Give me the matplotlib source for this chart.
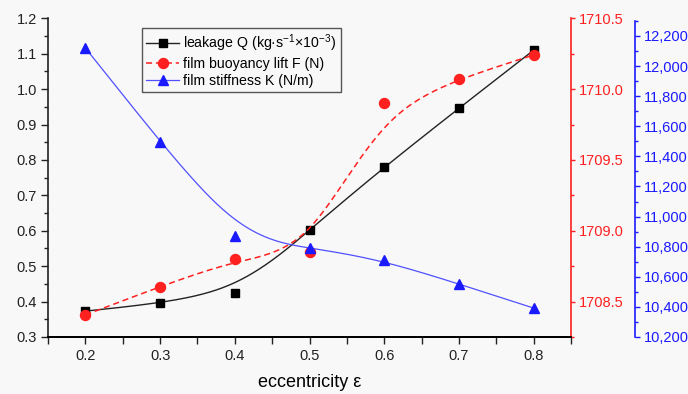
import numpy as np
import matplotlib
matplotlib.use('Agg')
import matplotlib.pyplot as plt
from matplotlib.ticker import MultipleLocator, StrMethodFormatter

plt.rcParams['font.family'] = ['Liberation Sans', 'DejaVu Sans']
plt.rcParams['mathtext.default'] = 'regular'

# data
ecc = [0.2, 0.3, 0.4, 0.5, 0.6, 0.7, 0.8]
leakage_q = [0.373, 0.395, 0.423, 0.602, 0.781, 0.946, 1.110]
lift_f = [1708.406, 1708.606, 1708.803, 1708.853, 1709.904, 1710.072, 1710.241]
stiffness_k = [12120, 11498, 10872, 10791, 10713, 10552, 10392]


def bspline(x, y, n=300, k=3):
    # clamped cubic B-spline using the data points as control points
    pts = np.column_stack([x, y])
    m = len(pts)
    knots = np.concatenate([np.zeros(k), np.arange(m - k + 1), np.full(k, m - k)]).astype(float)
    t = np.linspace(0, m - k - 1e-9, n)
    N = np.array([(t >= knots[i]) & (t < knots[i + 1]) for i in range(len(knots) - 1)], dtype=float)
    for d in range(1, k + 1):
        new = np.zeros((len(knots) - 1 - d, n))
        for i in range(len(knots) - 1 - d):
            a = knots[i + d] - knots[i]
            b = knots[i + d + 1] - knots[i + 1]
            if a > 0:
                new[i] += (t - knots[i]) / a * N[i]
            if b > 0:
                new[i] += (knots[i + d + 1] - t) / b * N[i + 1]
        N = new
    curve = N.T @ pts
    return curve[:, 0], curve[:, 1]


fig = plt.figure(figsize=(6.88, 3.94), dpi=100, facecolor='#f8f8f8')
ax = fig.add_axes([0.0698, 0.1447, 0.7602, 0.8089])
ax.set_facecolor('#f8f8f8')
ax2 = ax.twinx()
ax3 = ax.twinx()

blk = '#222222'
red = '#ff2020'
blue = '#1a1aff'

# leakage Q (left axis)
cx, cy = bspline(ecc, leakage_q)
ax.plot(cx, cy, color=blk, lw=1.0)
ax.plot(ecc, leakage_q, 's', color='black', ms=5.8, ls='none')

# lift F (red axis)
cx, cy = bspline(ecc, lift_f)
ax2.plot(cx, cy, color=red, lw=1.1, ls=(0, (4, 2.5)))
ax2.plot(ecc, lift_f, 'o', color=red, ms=7.2, ls='none')

# stiffness K (blue axis)
cx, cy = bspline(ecc, stiffness_k)
ax3.plot(cx, cy, color='#5050ff', lw=0.9)
ax3.plot(ecc, stiffness_k, '^', color=blue, ms=7, ls='none')

ax.set_xlim(0.15, 0.85)
ax.set_ylim(0.3, 1.2)
ax2.set_ylim(1708.25, 1710.5)
ax3.set_ylim(10200, 10200 + 319 / 30.13 * 200)

ax.xaxis.set_major_locator(MultipleLocator(0.1))
ax.xaxis.set_minor_locator(MultipleLocator(0.05))
ax.yaxis.set_major_locator(MultipleLocator(0.1))
ax.yaxis.set_minor_locator(MultipleLocator(0.05))
ax.xaxis.set_major_formatter(StrMethodFormatter('{x:.1f}'))
ax.yaxis.set_major_formatter(StrMethodFormatter('{x:.1f}'))
ax2.yaxis.set_major_locator(MultipleLocator(0.5))
ax2.yaxis.set_minor_locator(MultipleLocator(0.25))
ax2.yaxis.set_major_formatter(StrMethodFormatter('{x:.1f}'))
ax3.yaxis.set_major_locator(MultipleLocator(200))
ax3.yaxis.set_minor_locator(MultipleLocator(100))
ax3.yaxis.set_major_formatter(StrMethodFormatter('{x:,.0f}'))

for a in (ax, ax2, ax3):
    a.spines['top'].set_visible(False)
ax.spines['right'].set_visible(False)
ax2.spines['left'].set_visible(False)
ax3.spines['left'].set_visible(False)
ax2.spines['right'].set_color(red)
ax3.spines['right'].set_color(blue)
ax3.spines['right'].set_position(('axes', 1 + 64 / 523))
ax3.spines['right'].set_bounds(10200, 12300)
for s in ('left', 'bottom'):
    ax.spines[s].set_color(blk)
for a in (ax, ax2, ax3):
    for s in a.spines.values():
        s.set_linewidth(1.2)

ax.tick_params(which='major', direction='out', length=5, width=1.0, labelsize=10.5, colors=blk, pad=3)
ax.tick_params(which='minor', direction='out', length=3, width=1.0, colors=blk)
ax.tick_params(axis='x', which='both', length=5, pad=3.5)
ax2.tick_params(which='major', direction='out', length=3, width=1.0, labelsize=10.5, colors=red, pad=2.5)
ax2.tick_params(which='minor', direction='out', length=2, width=1.0, colors=red)
ax3.tick_params(which='major', direction='out', length=3.5, width=1.0, labelsize=10.5, colors=blue, pad=2.5)
ax3.tick_params(which='minor', direction='out', length=2.5, width=1.0, colors=blue)

ax.set_xlabel('eccentricity ε', fontsize=13, labelpad=8)

h1 = plt.Line2D([], [], color=blk, lw=1.0, marker='s', ms=5.8, mfc='black', mec='black')
h2 = plt.Line2D([], [], color=red, lw=1.1, ls=(0, (4, 2.5)), marker='o', ms=7.2, mfc=red, mec=red)
h3 = plt.Line2D([], [], color='#5050ff', lw=0.9, marker='^', ms=7, mfc=blue, mec=blue)
leg = ax.legend([h1, h2, h3],
                ['leakage Q (kg·s$^{-1}$×10$^{-3}$)', 'film buoyancy lift F (N)', 'film stiffness K (N/m)'],
                loc='upper left', bbox_to_anchor=(0.18, 0.97), borderaxespad=0, fontsize=10.2,
                handlelength=2.3, handletextpad=0.3, labelspacing=0.22, borderpad=0.3, fancybox=False,
                edgecolor='#555555', facecolor='#f8f8f8', framealpha=1)
leg.get_frame().set_linewidth(1.0)
leg.set_zorder(5)

fig.savefig('out.png', dpi=100, facecolor=fig.get_facecolor())
